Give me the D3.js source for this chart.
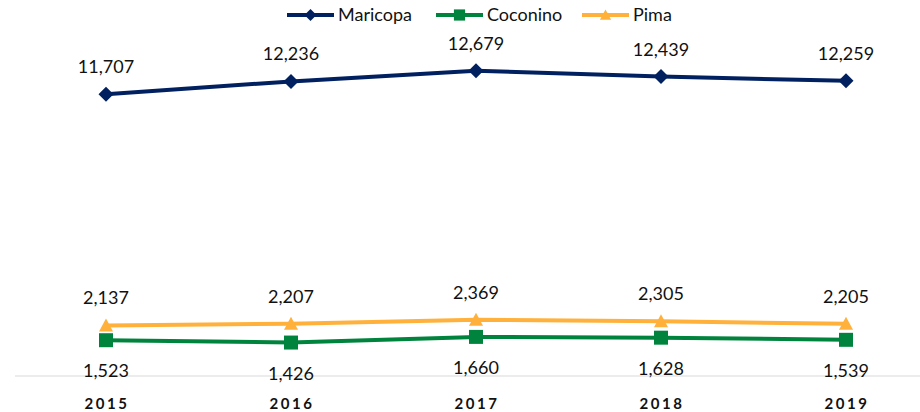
<!DOCTYPE html>
<html>
<head>
<meta charset="utf-8">
<script src="https://cdn.jsdelivr.net/npm/d3@7"></script>
<style>
  body { margin: 0; background: #fff; }
  text { font-family: Lato, "Open Sans", sans-serif; fill: #111; }
</style>
</head>
<body>
<svg></svg>
<script>
var width = 920
var height = 412

var years = ['2015', '2016', '2017', '2018', '2019']
var maricopa = [11707, 12236, 12679, 12439, 12259]
var coconino = [1523, 1426, 1660, 1628, 1539]
var pima = [2137, 2207, 2369, 2305, 2205]

// marker shapes, centred on 0,0
var diamond = 'M0,-7.5L7.5,0L0,7.5L-7.5,0Z'
var square = 'M-7,-7H7V7H-7Z'
var triangle = 'M0,-7L7,6H-7Z'

var series = [
  { name: 'Maricopa', values: maricopa, color: '#002060', marker: diamond, label: 'above' },
  { name: 'Coconino', values: coconino, color: '#00843D', marker: square, label: 'below' },
  { name: 'Pima', values: pima, color: '#FFB13B', marker: triangle, label: 'above' }
]

var svg = d3.select('svg')
  .attr('width', width)
  .attr('height', height)

var xScale = d3.scalePoint()
  .domain(years)
  .range([106, 846])

var yScale = d3.scaleLinear()
  .domain([0, 14000])
  .range([377, 38.8])

// baseline
svg.append('line')
  .attr('x1', 15).attr('x2', width)
  .attr('y1', 376).attr('y2', 376)
  .attr('stroke', '#d9d9d9')
  .attr('stroke-width', 1)

// x labels
svg.append('g')
  .selectAll('text')
  .data(years)
  .enter()
  .append('text')
    .attr('x', d => xScale(d) + 1)
    .attr('y', 409)
    .style('text-anchor', 'middle')
    .style('font-weight', 'bold')
    .style('font-size', '15px')
    .style('letter-spacing', '2.6px')
    .text(d => d)

var line = d3.line()
  .x((d, i) => xScale(years[i]))
  .y(d => yScale(d))

series.forEach(function(s) {
  svg.append('path')
    .datum(s.values)
    .attr('d', line)
    .attr('fill', 'none')
    .attr('stroke', s.color)
    .attr('stroke-width', 4)

  svg.append('g')
    .selectAll('path')
    .data(s.values)
    .enter()
    .append('path')
      .attr('d', s.marker)
      .attr('transform', (d, i) => 'translate(' + xScale(years[i]) + ',' + yScale(d) + ')')
      .attr('fill', s.color)

  svg.append('g')
    .selectAll('text')
    .data(s.values)
    .enter()
    .append('text')
      .attr('x', (d, i) => xScale(years[i]))
      .attr('y', d => s.label === 'above' ? yScale(d) - 21 : yScale(d) + 37)
      .style('text-anchor', 'middle')
      .style('font-size', '18px')
      .text(d => d3.format(',')(d))
})

// legend
var legendX = [287, 436, 582]
var legend = svg.append('g')
series.forEach(function(s, i) {
  var g = legend.append('g').attr('transform', 'translate(' + legendX[i] + ',15)')
  g.append('line')
    .attr('x1', 0).attr('x2', 47)
    .attr('stroke', s.color)
    .attr('stroke-width', 4)
  g.append('path')
    .attr('d', s.marker)
    .attr('transform', 'translate(23.5,0) scale(0.8)')
    .attr('fill', s.color)
  g.append('text')
    .attr('x', 51)
    .attr('y', 6)
    .style('font-size', '18px')
    .text(s.name)
})
</script>
</body>
</html>
